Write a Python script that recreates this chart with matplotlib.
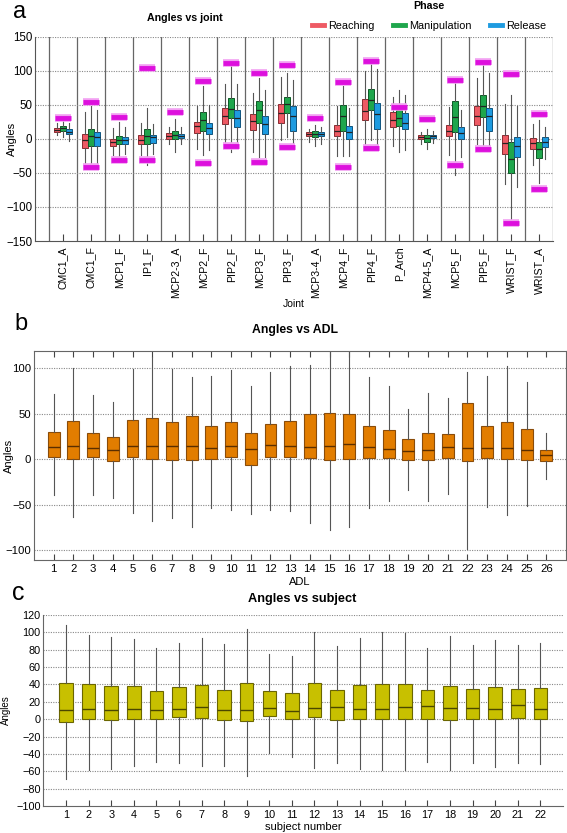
import numpy as np
import matplotlib
matplotlib.use("Agg")
import matplotlib.pyplot as plt
from matplotlib.lines import Line2D

plt.rcParams['font.family'] = ['Liberation Sans', 'DejaVu Sans']

# ---------------- Panel a data ----------------
joints = ['CMC1_A', 'CMC1_F', 'MCP1_F', 'IP1_F', 'MCP2-3_A', 'MCP2_F', 'PIP2_F', 'MCP3_F',
          'PIP3_F', 'MCP3-4_A', 'MCP4_F', 'PIP4_F', 'P_Arch', 'MCP4-5_A', 'MCP5_F', 'PIP5_F',
          'WRIST_F', 'WRIST_A']
phases = ['Reaching', 'Manipulation', 'Release']

reach_q1 = [10, -14, -10, -7, 0.5, 9, 22, 13, 24, 3.5, 3.5, 27, 17, 0.5, 3.5, 20, -22, -15]
reach_med = [13, -2, -4, -1, 4.5, 19, 34, 26, 38, 6.5, 11.5, 41, 27, 3, 11, 34, -6, -6]
reach_q3 = [16, 7, 0.5, 5, 8, 25, 46, 36, 51, 9.5, 21, 59, 39, 5.5, 21, 48, 6, 1]
reach_lo = [5, -40, -24, -23, -7, -15, -4, -20, -2, -4, -25, -7, -10, -7, -24, -8, -66, -38]
reach_hi = [23, 39, 16, 23, 17, 48, 81, 68, 91, 15, 48, 99, 62, 10, 47, 90, 51, 22]

manip_q1 = [12, -10, -8, -7, 0, 11, 30, 23, 38, 3, 12, 42, 19, -4, 10, 32, -50, -28]
manip_med = [16, 4, -1, 4, 6, 28, 44, 42, 51, 7, 33.5, 57, 31, 1, 32, 48, -29, -15]
manip_q3 = [19, 14, 4, 14, 11, 40, 60, 56, 61, 12, 50, 73, 43, 5, 55, 65, -4, -4]
manip_lo = [3, -41, -26, -39, -19, -24, -19, -27, 3, -10, -25, -2, -19, -15, -53, -17, -123, -65]
manip_hi = [26, 48, 25, 45, 29, 77, 107, 89, 96, 20, 77, 112, 71, 14, 84, 111, 64, 27]

rel_q1 = [7, -10, -7, -6, 1, 7, 17, 7, 12, 3.5, 0.5, 15, 14, 1.5, 0, 11, -27, -12]
rel_med = [10, 3, -1, 3, 4, 16, 30, 22, 33, 6.5, 10.5, 37, 24, 4, 9, 33.5, -10, -4]
rel_q3 = [14, 10, 3, 5.5, 7, 24, 43, 34, 48, 9.5, 19, 53, 38, 6, 18, 46, 3, 2.5]
rel_lo = [-3, -41, -22, -22, -8, -17, -14, -27, -7, -7, -25, -11, -16, -6, -27, -12, -71, -30]
rel_hi = [24, 42, 18, 22, 17, 50, 81, 72, 86, 17, 46, 102, 65, 12, 43, 97, 48, 18]

rom_max = [31, 54, 32, 104, 40, 85, 111, 96, 109, 31, 83, 114, 47, 28.5, 86, 113, 95, 36]
rom_min = [np.nan, -41, -31, -31, np.nan, -35, -10, -34, -12, np.nan, -41, -13, np.nan, np.nan,
           -38, -15, -123, -73]

# ---------------- Panel b data ----------------
adl = [str(i) for i in range(1, 27)]
adl_q1 = [2, 0, 2, -2, 2, 0, -1, -1.5, 0.5, 2, -7, 2, 2, 1.5, -1, 0, 0.7, 0.7, -1, -1, 1.5, -2, 0.7, 0, -1, -2.5]
adl_med = [13, 14, 12, 10, 14.5, 14.5, 15, 15, 12, 14.5, 11, 16, 14.5, 13, 14.5, 16.5, 13, 11.7, 9, 10,
           13, 12, 12.4, 12.4, 10, 4.4]
adl_q3 = [30, 42, 29, 24, 43, 45, 41, 47, 37, 40.5, 28.5, 39, 42, 50, 51, 50, 36, 32.5, 22, 28.5, 28,
          62, 37, 40.5, 33.5, 10]
adl_lo = [-39, -64, -40, -43, -59, -68, -65, -75, -54, -56, -60, -56, -57, -70, -78, -75, -54, -46, -34,
          -46, -38, -99, -53, -62, -52, -22]
adl_hi = [72, 100, 71, 63, 99, 112, 99, 90, 91, 98, 81, 96, 102, 104, 125, 125, 90, 80, 55, 73, 67, 96,
          91, 103, 85, 29]

# ---------------- Panel c data ----------------
subjects = [str(i) for i in range(1, 23)]
sub_q1 = [-3, 0, -1, 0, 0, 2, 1, -1.5, -2.5, 4, 0, 2, -1, 0, 0, 0, 0, -1, 0, 0, 1, 0]
sub_med = [10.4, 12, 10.4, 12.3, 10.8, 12, 14, 10.4, 10.4, 12.7, 9.6, 12.7, 13.5, 12, 12, 13.5, 15.4,
           13, 13, 11.5, 16.5, 11.5]
sub_q3 = [41.5, 40, 38.5, 38, 33, 36.5, 39, 34, 41.5, 32.7, 29.6, 41.5, 34, 39, 40, 40, 33.5, 38.5,
          34.6, 36.5, 35, 35.5]
sub_lo = [-69, -58, -57, -54, -49, -50, -54, -54, -66, -38.5, -44, -56, -51, -57, -59, -59, -49, -59,
          -51, -55, -50, -51.5]
sub_hi = [108.5, 97, 95, 92, 81.5, 88, 94, 87, 104, 75, 72.7, 100, 84, 93, 100, 99, 82, 96, 86, 91.5,
          86, 88]


def make_stats(q1, med, q3, lo, hi):
    return [dict(q1=a, med=b, q3=c, whislo=d, whishi=e, fliers=[])
            for a, b, c, d, e in zip(q1, med, q3, lo, hi)]


W, H = 567, 833
fig = plt.figure(figsize=(W / 100, H / 100), dpi=100)


def ax_px(left, top, right, bottom):
    return fig.add_axes([left / W, 1 - bottom / H, (right - left) / W, (bottom - top) / H])


GRID = dict(color='#888888', linestyle=(0, (1, 1.2)), linewidth=0.8)

# ================= Panel a =================
axa = ax_px(35, 36.7, 553, 241)
phase_colors = ['#EE5A64', '#1FA64C', '#1E9BE0']
phase_edges = ['#8a2a30', '#0d5a26', '#0f5580']
phase_data = [
    (reach_q1, reach_med, reach_q3, reach_lo, reach_hi),
    (manip_q1, manip_med, manip_q3, manip_lo, manip_hi),
    (rel_q1, rel_med, rel_q3, rel_lo, rel_hi),
]
xpos = np.arange(1, len(joints) + 1)
offsets = [-0.226, 0.0, 0.226]
for k, (data, fc, ec) in enumerate(zip(phase_data, phase_colors, phase_edges)):
    axa.bxp(make_stats(*data), positions=xpos + offsets[k], widths=0.21, patch_artist=True,
            showcaps=False, showfliers=False, manage_ticks=False,
            boxprops=dict(facecolor=fc, edgecolor=ec, linewidth=0.7),
            medianprops=dict(color='#222222', linewidth=0.9),
            whiskerprops=dict(color='#555555', linewidth=0.8))
# range of motion bars
axa.hlines(rom_max, xpos - 0.3, xpos + 0.3, colors='#F2A0F2', linewidth=5.5, zorder=4)
axa.hlines(rom_max, xpos - 0.3, xpos + 0.3, colors='#DD10DD', linewidth=3.5, zorder=5)
axa.hlines(rom_min, xpos - 0.3, xpos + 0.3, colors='#F2A0F2', linewidth=5.5, zorder=4)
axa.hlines(rom_min, xpos - 0.3, xpos + 0.3, colors='#DD10DD', linewidth=3.5, zorder=5)
for s in np.arange(0.5, len(joints) + 1, 1.0):
    axa.axvline(s, color='#666666', linewidth=0.9, zorder=0)
axa.set_xlim(0, len(joints) + 0.5)
axa.set_ylim(-150, 150)
axa.set_yticks([-150, -100, -50, 0, 50, 100, 150])
for v in [-100, -50, 0, 50, 100, 150]:
    axa.axhline(v, zorder=0, **GRID)
axa.set_xticks(xpos)
axa.set_xticklabels(joints, rotation=90, fontsize=7.6)
axa.tick_params(axis='x', direction='in', length=5, width=0.8, color='#444444', pad=4)
axa.tick_params(axis='y', direction='in', length=0, labelsize=8.3, pad=2)
for sp in ['top', 'right']:
    axa.spines[sp].set_visible(False)
for sp in ['left', 'bottom']:
    axa.spines[sp].set_color('#555555')
axa.set_ylabel('Angles', fontsize=8)
axa.yaxis.set_label_coords((17 - 35) / 518, 0.5)
axa.set_xlabel('Joint', fontsize=7.5, labelpad=1)
fig.text(185 / W, 1 - 18 / H, 'Angles vs joint', ha='center', va='center', fontsize=7.7,
         fontweight='bold')
fig.text(13 / W, 1 - 12 / H, 'a', ha='left', va='center', fontsize=17)
handles = [Line2D([0], [0], color=c, linewidth=3.5) for c in phase_colors]
leg = fig.legend(handles, phases, loc='upper center', bbox_to_anchor=(429 / W, 1 - 0 / H), ncol=3,
                 frameon=False, fontsize=7.8, handlelength=1.1, handletextpad=0.4,
                 columnspacing=1.7, title='Phase', borderaxespad=0, borderpad=0.1,
                 labelspacing=0.9)
leg.get_title().set_fontweight('bold')
leg.get_title().set_fontsize(7.7)

# ================= Panel b =================
axb = ax_px(34, 351, 566, 560)
xb = np.arange(1, len(adl) + 1)
axb.bxp(make_stats(adl_q1, adl_med, adl_q3, adl_lo, adl_hi), positions=xb, widths=0.6,
        patch_artist=True, showcaps=False, showfliers=False, manage_ticks=False,
        boxprops=dict(facecolor='#E27D00', edgecolor='#8a4c0a', linewidth=0.8),
        medianprops=dict(color='#5a2e00', linewidth=1.0),
        whiskerprops=dict(color='#555555', linewidth=0.8))
axb.set_xlim(0, len(adl) + 1)
axb.set_ylim(-111, 119)
axb.set_yticks([-100, -50, 0, 50, 100])
for v in [-100, -50, 0, 50, 100]:
    axb.axhline(v, zorder=0, **GRID)
axb.set_xticks(xb)
axb.set_xticklabels(adl, fontsize=8.2)
axb.tick_params(axis='x', direction='in', length=4, width=0.8, color='#444444', top=True, pad=3)
axb.tick_params(axis='y', direction='in', length=0, labelsize=8.2, pad=2)
for sp in axb.spines.values():
    sp.set_color('#666666')
axb.set_ylabel('Angles', fontsize=8)
axb.yaxis.set_label_coords((14 - 34) / 532, 0.5)
axb.set_xlabel('ADL', fontsize=8, labelpad=2)
fig.text(295 / W, 1 - 330 / H, 'Angles vs ADL', ha='center', va='center', fontsize=8.8,
         fontweight='bold')
fig.text(14 / W, 1 - 324 / H, 'b', ha='left', va='center', fontsize=17)

# ================= Panel c =================
axc = ax_px(43.4, 615, 563, 806)
xc = np.arange(1, len(subjects) + 1)
axc.bxp(make_stats(sub_q1, sub_med, sub_q3, sub_lo, sub_hi), positions=xc, widths=0.6,
        patch_artist=True, showcaps=False, showfliers=False, manage_ticks=False,
        boxprops=dict(facecolor='#C8C000', edgecolor='#6b6600', linewidth=0.8),
        medianprops=dict(color='#4a4700', linewidth=1.0),
        whiskerprops=dict(color='#555555', linewidth=0.8))
axc.set_xlim(0, len(subjects) + 1)
axc.set_ylim(-100, 120)
axc.set_yticks(np.arange(-100, 121, 20))
for v in np.arange(-80, 121, 20):
    axc.axhline(v, zorder=0, **GRID)
axc.set_xticks(xc)
axc.set_xticklabels(subjects, fontsize=7.8)
axc.tick_params(axis='x', direction='in', length=4, width=0.8, color='#444444', pad=3)
axc.tick_params(axis='y', direction='in', length=0, labelsize=7.8, pad=2)
for sp in ['top', 'right']:
    axc.spines[sp].set_visible(False)
for sp in ['left', 'bottom']:
    axc.spines[sp].set_color('#666666')
axc.set_ylabel('Angles', fontsize=7)
axc.yaxis.set_label_coords((11 - 43.4) / 519.6, 0.5)
axc.set_xlabel('subject number', fontsize=8, labelpad=1)
fig.text(302 / W, 1 - 599 / H, 'Angles vs subject', ha='center', va='center', fontsize=9.2,
         fontweight='bold')
fig.text(12 / W, 1 - 593 / H, 'c', ha='left', va='center', fontsize=18)

fig.savefig('out.png', dpi=100)
